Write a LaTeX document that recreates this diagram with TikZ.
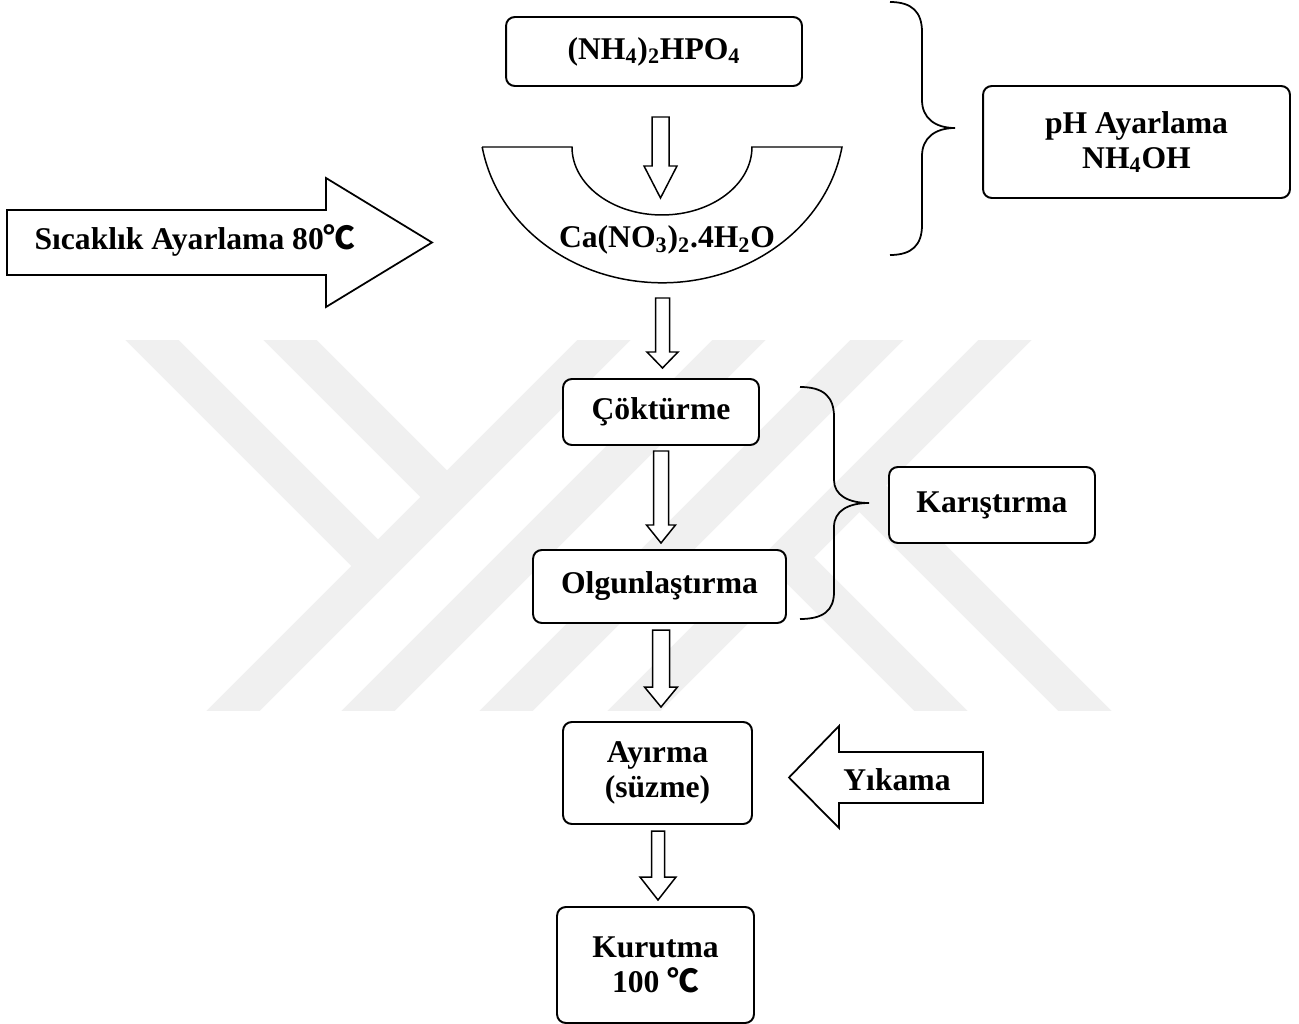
\documentclass[tikz,border=0pt]{standalone}
\usepackage{fontspec}
\setmainfont{Liberation Serif}
\newfontfamily\cjkf{Noto Sans CJK SC}
\usetikzlibrary{calc}
\newdimen\pxu \pxu=0.02cm
\newcommand\degc{{\cjkf ℃}}
\newcommand\sbs[1]{\textsubscript{#1}}
\definecolor{wmgray}{RGB}{240,240,240}
\tikzset{
  box/.style={draw, fill=white, rounded corners=5pt, line width=1.1pt, align=center,
    font=\bfseries\fontsize{18}{20}\selectfont, inner sep=0pt},
  blockarrow/.style={draw, fill=white, line width=0.85pt, line join=miter},
  bigarrow/.style={draw, fill=white, line width=1pt, line join=miter},
  txt/.style={font=\bfseries\fontsize{18}{20}\selectfont, align=center, inner sep=0pt},
  brace/.style={line width=1pt},
  wm/.style={line width=0.75cm, draw=wmgray},
  bowlst/.style={draw, fill=white, line width=0.85pt}
}
% #1 start coordinate, #2 tip coordinate, #3 shaft half width, #4 head half width, #5 head length (px)
\newcommand\downblock[5]{%
  \draw[blockarrow] let \p1=(#1), \p2=(#2) in
   (\x1-#3*\pxu,\y1) -- (\x1+#3*\pxu,\y1) -- (\x1+#3*\pxu,\y2+#5*\pxu)
   -- (\x1+#4*\pxu,\y2+#5*\pxu) -- (\x2,\y2) -- (\x1-#4*\pxu,\y2+#5*\pxu)
   -- (\x1-#3*\pxu,\y2+#5*\pxu) -- cycle;}
\begin{document}
\begin{tikzpicture}[x=0.02cm,y=-0.02cm]
\useasboundingbox (0,0) rectangle (1299,1024);
\fill[white] (0,0) rectangle (1299,1024);

% watermark
\begin{scope}
\clip (0,340) rectangle (1299,710);
\draw[wm] (644,300) -- (194,750);
\draw[wm] (779,300) -- (329,750);
\draw[wm] (917,300) -- (467,750);
\draw[wm] (1045,300) -- (595,750);
\draw[wm] (112,300) -- (378,566);
\draw[wm] (250,300) -- (447,497);
\draw[wm] (980,750) -- (787.5,557.5);
\draw[wm] (1124,750) -- (859.5,485.5);
\end{scope}

% boxes
\node[box, minimum width=5.92cm, minimum height=1.38cm] (dap) at (654,51.5) {(NH\sbs{4})\sbs{2}HPO\sbs{4}};
\node[box, minimum width=6.14cm, minimum height=2.24cm] (ph) at (1136.5,142) {pH Ayarlama\\NH\sbs{4}OH};
\node[box, minimum width=3.92cm, minimum height=1.32cm] (cok) at (661,412) {Çöktürme};
\node[box, minimum width=5.06cm, minimum height=1.46cm] (olg) at (659.5,586.5) {Olgunlaştırma};
\node[box, minimum width=4.12cm, minimum height=1.52cm] (kar) at (992,505) {Karıştırma};
\node[box, minimum width=3.78cm, minimum height=2.04cm] (ayr) at (657.5,773) {Ayırma\\(süzme)};
\node[box, minimum width=3.94cm, minimum height=2.32cm] (kur) at (655.5,965) {Kurutma\\100 \degc};

% bowl
\draw[bowlst] (482,147) -- (572,147)
  arc[start angle=180, end angle=360, x radius=1.8cm, y radius=1.36cm]
  -- (842,147)
  arc[start angle=350.4, end angle=189.6, x radius=3.65cm, y radius=3.26cm]
  -- cycle;
\node[txt] (ca) at (667,240) {Ca(NO\sbs{3})\sbs{2}.4H\sbs{2}O};

% big arrows
\draw[bigarrow] (7,210) -- (326,210) -- (326,178) -- (432,242.5) -- (326,307) -- (326,275) -- (7,275) -- cycle;
\node[txt] (temp) at (195,240) {Sıcaklık Ayarlama 80\degc};
\draw[bigarrow] (983,752) -- (839,752) -- (839,726) -- (789,777.5) -- (839,828) -- (839,803) -- (983,803) -- cycle;
\node[txt] (yik) at (897,780) {Yıkama};

% down arrows
\coordinate (a1s) at (660.5,117); \coordinate (a1e) at (660.5,198);
\coordinate (a2s) at (662.5,298); \coordinate (a2e) at (662.5,368);
\coordinate (a3s) at (661,451);   \coordinate (a3e) at (661,543);
\coordinate (a4s) at (661,630);   \coordinate (a4e) at (661,707);
\coordinate (a5s) at (658,831);   \coordinate (a5e) at (658,900);
\downblock{a1s}{a1e}{8.5}{16.5}{32}
\downblock{a2s}{a2e}{7}{15.5}{16}
\downblock{a3s}{a3e}{7.5}{14.5}{18}
\downblock{a4s}{a4e}{8.5}{16.5}{20}
\downblock{a5s}{a5e}{6.5}{18}{23}

% braces
\draw[brace] (890,2) .. controls (912,2) and (922,12) .. (922,32) -- (922,100)
  .. controls (922,118) and (935,128) .. (955,128)
  .. controls (935,128) and (922,138) .. (922,156) -- (922,225)
  .. controls (922,245) and (912,255) .. (890,255);
\draw[brace] (800,387) .. controls (824,387) and (834,397) .. (834,417) -- (834,480)
  .. controls (834,495) and (848,503) .. (869,503)
  .. controls (848,503) and (834,511) .. (834,527) -- (834,592)
  .. controls (834,610) and (824,619) .. (800,619);
\end{tikzpicture}
\end{document}
